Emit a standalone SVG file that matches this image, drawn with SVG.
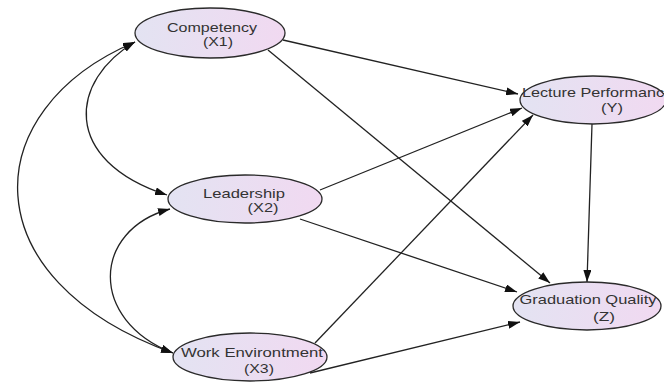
<svg xmlns="http://www.w3.org/2000/svg" width="664" height="382" viewBox="0 0 664 382">
<style>
.node{fill:url(#g);stroke:#2a2a2a;stroke-width:1.3}
.lbl{font-family:"Liberation Sans",Arial,sans-serif;font-size:13.5px;fill:#333}
.edge{fill:none;stroke:#222;stroke-width:1.3;marker-end:url(#ah)}
.cov{fill:none;stroke:#222;stroke-width:1.3;marker-start:url(#ah);marker-end:url(#ah)}
</style>
<defs>
<linearGradient id="g" x1="0" y1="0" x2="1" y2="0">
<stop offset="0" stop-color="#e3e3f2"/>
<stop offset="1" stop-color="#f1d9f1"/>
</linearGradient>
<marker id="ah" viewBox="0 0 12 8" refX="12" refY="4" markerWidth="12" markerHeight="8" markerUnits="userSpaceOnUse" orient="auto-start-reverse">
<path d="M0,0 L12,4 L0,8 z" fill="#111"/>
</marker>
</defs>
<rect width="664" height="382" fill="#fff"/>
<g id="connectors">
<path class="edge" d="M283,40 L518,94"/>
<path class="edge" d="M268,50 L550,283"/>
<path class="edge" d="M320,190 L522,108"/>
<path class="edge" d="M300,219 L517,292"/>
<path class="edge" d="M315,343 L533,115"/>
<path class="edge" d="M310,373 L520,322"/>
<path class="edge" d="M592,124 L587,282"/>
<path class="cov" d="M135,42 C-25,110 -30,280 173,353"/>
<path class="cov" d="M135,42 C70,80 60,160 167,195"/>
<path class="cov" d="M170,209 C92,230 88,320 173,353"/>
</g>
<g id="competency">
<ellipse class="node" cx="210" cy="33" rx="75" ry="25"/>
<text class="lbl" x="212" y="32" text-anchor="middle" textLength="90" lengthAdjust="spacingAndGlyphs">Competency</text>
<text class="lbl" x="218" y="46" text-anchor="middle" textLength="30" lengthAdjust="spacingAndGlyphs">(X1)</text>
</g>
<g id="leadership">
<ellipse class="node" cx="245" cy="199" rx="77" ry="24"/>
<text class="lbl" x="244" y="198" text-anchor="middle" textLength="82" lengthAdjust="spacingAndGlyphs">Leadership</text>
<text class="lbl" x="263" y="212" text-anchor="middle" textLength="31" lengthAdjust="spacingAndGlyphs">(X2)</text>
</g>
<g id="work-environment">
<ellipse class="node" cx="250" cy="357" rx="77" ry="24"/>
<text class="lbl" x="252" y="357" text-anchor="middle" textLength="142" lengthAdjust="spacingAndGlyphs">Work Environtment</text>
<text class="lbl" x="259" y="373" text-anchor="middle" textLength="30" lengthAdjust="spacingAndGlyphs">(X3)</text>
</g>
<g id="lecture-performance">
<ellipse class="node" cx="593" cy="100" rx="73" ry="24"/>
<text class="lbl" x="522" y="97" textLength="151" lengthAdjust="spacingAndGlyphs">Lecture Performance</text>
<text class="lbl" x="612" y="112" text-anchor="middle" textLength="22" lengthAdjust="spacingAndGlyphs">(Y)</text>
</g>
<g id="graduation-quality">
<ellipse class="node" cx="587" cy="306" rx="74" ry="24"/>
<text class="lbl" x="588" y="304" text-anchor="middle" textLength="137" lengthAdjust="spacingAndGlyphs">Graduation Quality</text>
<text class="lbl" x="604" y="321" text-anchor="middle" textLength="22" lengthAdjust="spacingAndGlyphs">(Z)</text>
</g>
</svg>
